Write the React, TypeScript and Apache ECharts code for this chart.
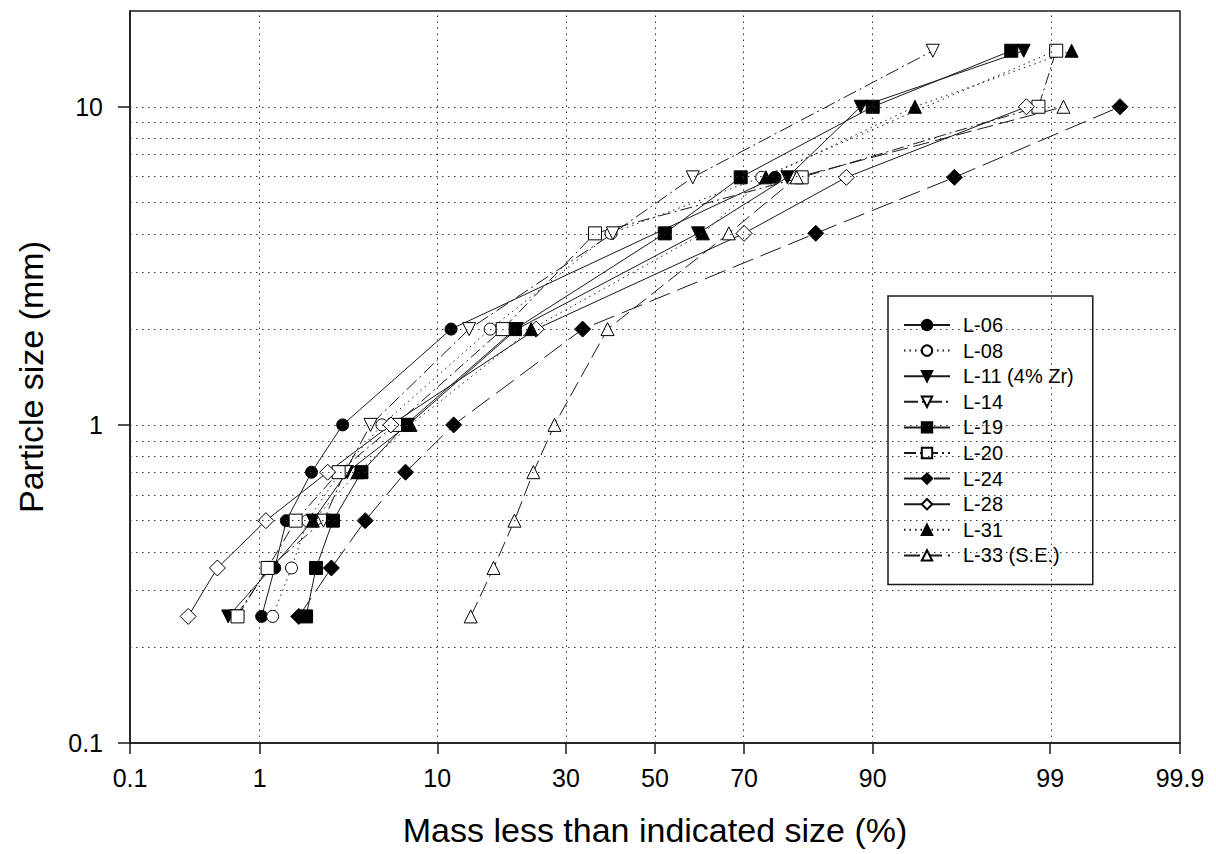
import React, { useEffect, useRef } from "react";
import * as echarts from "echarts";

// ---------- data (percent mass finer vs. particle size in mm) ----------
const L06_size = [0.25, 0.355, 0.5, 0.71, 1, 2, 6];
const L06_pct = [1.03, 1.26, 1.5, 2.16, 3.3, 11.5, 76.0];

const L08_size = [0.25, 0.355, 0.5, 0.71, 1, 2, 4, 6, 15];
const L08_pct = [1.22, 1.62, 2.04, 3.2, 5.4, 16.6, 39.8, 73.5, 99.08];

const L11_size = [0.25, 0.355, 0.5, 0.71, 1, 2, 4, 6, 10, 15];
const L11_pct = [0.6, 1.2, 2.2, 3.5, 7.3, 20.8, 60.0, 78.2, 88.7, 98.5];

const L14_size = [0.25, 0.355, 0.5, 0.71, 1, 2, 4, 6, 15];
const L14_pct = [0.68, 1.15, 2.55, 3.4, 4.7, 13.7, 40.2, 58.8, 94.9];

const L19_size = [0.25, 0.355, 0.5, 0.71, 1, 2, 4, 6, 10, 15];
const L19_pct = [2.0, 2.3, 2.9, 4.2, 7.1, 20.5, 52.3, 69.3, 90.0, 98.2];

const L20_size = [0.25, 0.355, 0.5, 0.71, 1, 2, 4, 6, 10, 15];
const L20_pct = [0.7, 1.13, 1.72, 3.13, 6.3, 18.5, 36.2, 80.6, 98.8, 99.09];

const L24_size = [0.25, 0.355, 0.5, 0.71, 1, 2, 4, 6, 10];
const L24_pct = [1.8, 2.84, 4.4, 7.1, 11.8, 33.5, 82.8, 96.1, 99.69];

const L28_size = [0.25, 0.355, 0.5, 0.71, 1, 2, 4, 6, 10];
const L28_pct = [0.3, 0.5, 1.1, 2.7, 6.0, 24.2, 70.0, 87.0, 98.56];

const L31_size = [0.5, 0.71, 1, 2, 4, 6, 10, 15];
const L31_pct = [2.2, 4.0, 7.5, 23.3, 61.1, 74.3, 93.7, 99.29];

const L33_size = [0.25, 0.355, 0.5, 0.71, 1, 2, 4, 6, 10];
const L33_pct = [13.9, 17.1, 20.4, 23.7, 27.7, 39.0, 66.8, 79.8, 99.19];

// ---------- axes ----------
const xTickPct = [0.1, 1, 10, 30, 50, 70, 90, 99, 99.9];
const xTickLabels = ["0.1", "1", "10", "30", "50", "70", "90", "99", "99.9"];
const xGridPct = [1, 10, 30, 50, 70, 90, 99];
const yTickMm = [0.1, 1, 10];
const yTickLabels = ["0.1", "1", "10"];
const yGridMm = [0.2, 0.3, 0.4, 0.5, 0.6, 0.7, 0.8, 0.9, 1, 2, 3, 4, 5, 6, 7, 8, 9, 10];
const xMinPct = 0.1;
const xMaxPct = 99.9;
const yMinMm = 0.1;
const yMaxMm = 20;

const FONT = "'Liberation Sans', Arial, sans-serif";
const INK = "#1a1a1a";

// inverse of the standard normal CDF (probability-scale axis transform)
function probit(p: number): number {
  const a = [-39.69683028665376, 220.9460984245205, -275.9285104469687, 138.357751867269, -30.66479806614716, 2.506628277459239];
  const b = [-54.47609879822406, 161.5858368580409, -155.6989798598866, 66.80131188771972, -13.28068155288572];
  const c = [-0.007784894002430293, -0.3223964580411365, -2.400758277161838, -2.549732539343734, 4.374664141464968, 2.938163982698783];
  const d = [0.007784695709041462, 0.3224671290700398, 2.445134137142996, 3.754408661907416];
  const pl = 0.02425;
  const ph = 1 - pl;
  if (p < pl) {
    const q = Math.sqrt(-2 * Math.log(p));
    return (((((c[0] * q + c[1]) * q + c[2]) * q + c[3]) * q + c[4]) * q + c[5]) / ((((d[0] * q + d[1]) * q + d[2]) * q + d[3]) * q + 1);
  }
  if (p <= ph) {
    const q = p - 0.5;
    const r = q * q;
    return ((((((a[0] * r + a[1]) * r + a[2]) * r + a[3]) * r + a[4]) * r + a[5]) * q) / (((((b[0] * r + b[1]) * r + b[2]) * r + b[3]) * r + b[4]) * r + 1);
  }
  const q = Math.sqrt(-2 * Math.log(1 - p));
  return -(((((c[0] * q + c[1]) * q + c[2]) * q + c[3]) * q + c[4]) * q + c[5]) / ((((d[0] * q + d[1]) * q + d[2]) * q + d[3]) * q + 1);
}
const px = (pct: number) => probit(pct / 100);
const ly = (mm: number) => Math.log10(mm);

type Def = {
  name: string;
  size: number[];
  pct: number[];
  symbol: string;
  rotate?: number;
  filled: boolean;
  dash: any;
  symSize: number;
};

const defs: Def[] = [
  { name: "L-06", size: L06_size, pct: L06_pct, symbol: "circle", filled: true, dash: "solid", symSize: 12 },
  { name: "L-08", size: L08_size, pct: L08_pct, symbol: "circle", filled: false, dash: [1.5, 4], symSize: 12 },
  { name: "L-11 (4% Zr)", size: L11_size, pct: L11_pct, symbol: "triangle", rotate: 180, filled: true, dash: "solid", symSize: 13 },
  { name: "L-14", size: L14_size, pct: L14_pct, symbol: "triangle", rotate: 180, filled: false, dash: [14, 4, 2, 4], symSize: 13 },
  { name: "L-19", size: L19_size, pct: L19_pct, symbol: "rect", filled: true, dash: "solid", symSize: 13 },
  { name: "L-20", size: L20_size, pct: L20_pct, symbol: "rect", filled: false, dash: [12, 4, 2, 4], symSize: 13 },
  { name: "L-24", size: L24_size, pct: L24_pct, symbol: "diamond", filled: true, dash: [22, 8], symSize: 16 },
  { name: "L-28", size: L28_size, pct: L28_pct, symbol: "diamond", filled: false, dash: "solid", symSize: 16 },
  { name: "L-31", size: L31_size, pct: L31_pct, symbol: "triangle", filled: true, dash: [1.5, 4], symSize: 13 },
  { name: "L-33 (S.E.)", size: L33_size, pct: L33_pct, symbol: "triangle", filled: false, dash: [16, 6], symSize: 13 },
];

export default function App() {
  const ref = useRef<HTMLDivElement>(null);

  useEffect(() => {
    if (!ref.current) return;
    const chart = echarts.init(ref.current, undefined, { renderer: "svg" });

    const xTickZ = xTickPct.map(px);
    const yTickL = yTickMm.map(ly);

    const gridSeries: any = {
      name: "__grid",
      type: "line",
      data: [],
      symbol: "none",
      silent: true,
      z: 1,
      markLine: {
        silent: true,
        symbol: ["none", "none"],
        label: { show: false },
        animation: false,
        lineStyle: { type: [1.5, 4.5], color: "#333", width: 1 },
        emphasis: { disabled: true },
        data: [
          ...xGridPct.map((p) => ({ xAxis: px(p) })),
          ...yGridMm.map((v) => ({ yAxis: ly(v) })),
        ],
      },
    };

    const series: any[] = defs.map((d) => ({
      name: d.name,
      type: "line",
      data: d.size.map((s, i) => [px(d.pct[i]), ly(s)]),
      symbol: d.symbol,
      symbolSize: d.symSize,
      symbolRotate: d.rotate || 0,
      showAllSymbol: true,
      z: 3,
      lineStyle: { color: INK, width: 1, type: d.dash },
      itemStyle: {
        color: d.filled ? "#000" : "#fff",
        borderColor: "#000",
        borderWidth: 1,
      },
      emphasis: { disabled: true },
    }));

    chart.setOption({
      animation: false,
      backgroundColor: "#fff",
      grid: {
        left: 130,
        right: 36,
        top: 11,
        bottom: 111,
        show: true,
        borderColor: INK,
        borderWidth: 1.5,
        backgroundColor: "transparent",
      },
      legend: {
        data: defs.map((d) => d.name),
        orient: "vertical",
        left: 888,
        top: 296,
        backgroundColor: "#fff",
        borderColor: INK,
        borderWidth: 1.5,
        borderRadius: 0,
        padding: [19, 19, 19, 15],
        itemWidth: 46,
        itemHeight: 13,
        itemGap: 5.6,
        textStyle: { fontSize: 20, lineHeight: 20, fontFamily: FONT, color: "#000", padding: [0, 0, 0, 8] },
      },
      xAxis: {
        type: "value",
        min: px(xMinPct),
        max: px(xMaxPct),
        name: "Mass less than indicated size (%)",
        nameLocation: "middle",
        nameGap: 70,
        nameTextStyle: { fontSize: 34, fontFamily: FONT, color: "#000" },
        axisLine: { show: true, onZero: false, lineStyle: { color: INK, width: 1.5 } },
        axisTick: { show: true, inside: false, length: 11, customValues: xTickZ, lineStyle: { color: INK, width: 1.5 } },
        axisLabel: {
          show: true,
          margin: 22,
          customValues: xTickZ,
          fontSize: 25,
          fontFamily: FONT,
          color: "#000",
          formatter: (v: number) => {
            const i = xTickZ.findIndex((z) => Math.abs(z - v) < 1e-6);
            return i >= 0 ? xTickLabels[i] : "";
          },
        },
        splitLine: { show: false },
      },
      yAxis: {
        type: "value",
        min: ly(yMinMm),
        max: ly(yMaxMm),
        name: "Particle size (mm)",
        nameLocation: "middle",
        nameGap: 82,
        nameTextStyle: { fontSize: 34, fontFamily: FONT, color: "#000" },
        axisLine: { show: true, onZero: false, lineStyle: { color: INK, width: 1.5 } },
        axisTick: { show: true, inside: false, length: 12, customValues: yTickL, lineStyle: { color: INK, width: 1.5 } },
        axisLabel: {
          show: true,
          margin: 27,
          customValues: yTickL,
          fontSize: 25,
          fontFamily: FONT,
          color: "#000",
          formatter: (v: number) => {
            const i = yTickL.findIndex((z) => Math.abs(z - v) < 1e-6);
            return i >= 0 ? yTickLabels[i] : "";
          },
        },
        splitLine: { show: false },
      },
      series: [gridSeries, ...series],
    });

    return () => chart.dispose();
  }, []);

  return (
    <div
      ref={ref}
      style={{ position: "fixed", left: 0, top: 0, width: 1216, height: 854, background: "#fff" }}
    />
  );
}
